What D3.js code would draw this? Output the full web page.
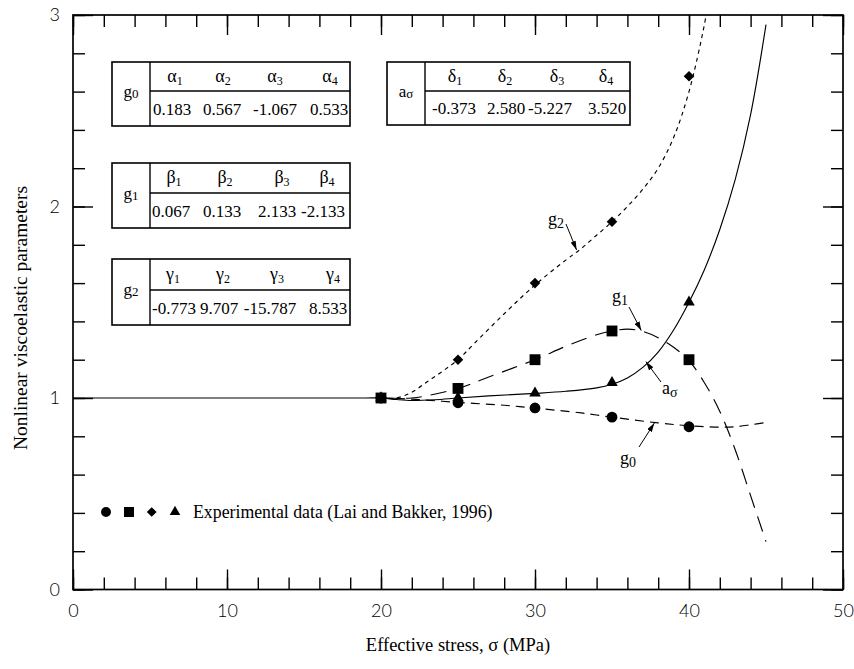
<!DOCTYPE html>
<html>
<head>
<meta charset="utf-8">
<script src="https://cdn.jsdelivr.net/npm/d3@7"></script>
<style>
  body { margin: 0; background: #fff; }
  svg { display: block; }
  .serif { font-family: "Liberation Serif", "DejaVu Serif", "Times New Roman", serif; }
  .sans { font-family: "Lato", "DejaVu Sans", sans-serif; font-weight: 300; }
</style>
</head>
<body>
<svg id="chart" width="854" height="669"></svg>
<script>
// ---- Experimental points (Lai and Bakker, 1996) ----
const stressExp = [20, 25, 30, 35, 40];
const g0Exp = [1.0, 0.975, 0.948, 0.90, 0.85];
const g1Exp = [1.0, 1.05, 1.20, 1.35, 1.20];
const g2Exp = [1.0, 1.20, 1.60, 1.92, 2.68];
const aExp  = [1.0, 1.00, 1.025, 1.08, 1.50];

// ---- Fitted curves, [stress (MPa), value] ----
const aCurve = [[0,1],[10,1],[19,1],[20,1],[21,0.992],[22,0.987],[23.5,0.991],[25,1.0],[27,1.011],[30,1.024],[32,1.035],[34,1.053],[35,1.072],[36,1.105],[37,1.16],[38,1.24],[39,1.355],[40,1.5],[41,1.67],[42,1.88],[43,2.14],[44,2.48],[45,2.95]];
const g0Curve = [[20,1],[22,0.994],[25,0.977],[28,0.962],[30,0.947],[33,0.922],[35,0.9],[38,0.87],[40,0.855],[42,0.848],[43,0.85],[44,0.86],[45,0.872]];
const g1Curve = [[20,1],[22,1.0],[23,1.012],[25,1.05],[27,1.11],[30,1.2],[32,1.27],[34,1.33],[35,1.35],[36,1.36],[37,1.348],[38,1.315],[39,1.265],[40,1.195],[41,1.08],[42,0.93],[43,0.73],[44,0.49],[45,0.25]];
const g2Curve = [[20,1],[21,1.0],[22,1.03],[23,1.085],[24,1.14],[25,1.2],[26,1.28],[28,1.44],[30,1.59],[32,1.72],[33,1.78],[34,1.85],[35,1.92],[36,2.0],[37,2.09],[38,2.2],[39,2.36],[40,2.6],[41,2.95],[41.2,3.05]];

// ---- Polynomial coefficients shown in the tables ----
const alphaCoef = ["0.183", "0.567", "-1.067", "0.533"];
const betaCoef  = ["0.067", "0.133", "2.133", "-2.133"];
const gammaCoef = ["-0.773", "9.707", "-15.787", "8.533"];
const deltaCoef = ["-0.373", "2.580", "-5.227", "3.520"];

// ---- Axis ticks ----
const xMajor = [0, 10, 20, 30, 40, 50];
const xMinor = d3.range(0, 51, 2);
const yMajor = [0, 1, 2, 3];
const yMinor = d3.range(0, 3.01, 0.2).map(v => +v.toFixed(1));

const svg = d3.select("#chart");
const L = 73, R = 843, T = 15, B = 589.5;
const x = d3.scaleLinear().domain([0, 50]).range([L, R]);
const y = d3.scaleLinear().domain([0, 3]).range([B, T]);

svg.append("defs").append("clipPath").attr("id", "plotClip")
  .append("rect").attr("x", L).attr("y", T).attr("width", R - L).attr("height", B - T);

svg.select("defs").append("marker")
  .attr("id", "arrow").attr("viewBox", "0 0 10 6")
  .attr("refX", 10).attr("refY", 3)
  .attr("markerWidth", 9).attr("markerHeight", 5.5)
  .attr("markerUnits", "userSpaceOnUse")
  .attr("orient", "auto")
  .append("path").attr("d", "M0,0 L10,3 L0,6 Z").attr("fill", "#000");

// ---- Axes with inward ticks on all four sides ----
const majorLen = 20, minorLen = 12;
function styleAxis(g) {
  g.select(".domain").remove();
  g.selectAll(".tick line").attr("stroke", "#000").attr("stroke-width", 1.4);
  g.attr("font-family", null).attr("font-size", null);
}
function styleLabels(g) {
  g.selectAll("text").attr("class", "sans").attr("font-size", 18).attr("fill", "#000");
}
svg.append("g").attr("transform", `translate(0,${B})`)
  .call(d3.axisBottom(x).tickValues(xMinor).tickSize(-minorLen).tickFormat(""))
  .call(styleAxis);
svg.append("g").attr("transform", `translate(0,${B})`)
  .call(d3.axisBottom(x).tickValues(xMajor).tickSize(-majorLen).tickPadding(15).tickFormat(d3.format("d")))
  .call(styleAxis).call(styleLabels);
svg.append("g").attr("transform", `translate(0,${T})`)
  .call(d3.axisTop(x).tickValues(xMinor).tickSize(-minorLen).tickFormat(""))
  .call(styleAxis);
svg.append("g").attr("transform", `translate(0,${T})`)
  .call(d3.axisTop(x).tickValues(xMajor).tickSize(-majorLen).tickFormat(""))
  .call(styleAxis);
svg.append("g").attr("transform", `translate(${L},0)`)
  .call(d3.axisLeft(y).tickValues(yMinor).tickSize(-minorLen).tickFormat(""))
  .call(styleAxis);
svg.append("g").attr("transform", `translate(${L},0)`)
  .call(d3.axisLeft(y).tickValues(yMajor).tickSize(-majorLen).tickPadding(13).tickFormat(d3.format("d")))
  .call(styleAxis).call(styleLabels);
svg.append("g").attr("transform", `translate(${R},0)`)
  .call(d3.axisRight(y).tickValues(yMinor).tickSize(-minorLen).tickFormat(""))
  .call(styleAxis);
svg.append("g").attr("transform", `translate(${R},0)`)
  .call(d3.axisRight(y).tickValues(yMajor).tickSize(-majorLen).tickFormat(""))
  .call(styleAxis);

svg.append("rect").attr("x", L).attr("y", T).attr("width", R - L).attr("height", B - T)
  .attr("fill", "none").attr("stroke", "#000").attr("stroke-width", 1.7);

// ---- Axis titles ----
svg.append("text").attr("class", "serif").attr("x", 458).attr("y", 651).attr("text-anchor", "middle")
  .attr("font-size", 18.5).text("Effective stress, σ (MPa)");
svg.append("text").attr("class", "serif").attr("transform", "translate(27,318) rotate(-90)").attr("text-anchor", "middle")
  .attr("font-size", 19.5).text("Nonlinear viscoelastic parameters");

// ---- Curves ----
const line = d3.line().x(d => x(d[0])).y(d => y(d[1])).curve(d3.curveCatmullRom.alpha(0.5));
const curves = svg.append("g").attr("clip-path", "url(#plotClip)")
  .attr("fill", "none").attr("stroke", "#000").attr("stroke-width", 1.15);
curves.append("path").attr("d", line(g0Curve)).attr("stroke-dasharray", "9,6");
curves.append("path").attr("d", line(g1Curve)).attr("stroke-dasharray", "16,9");
curves.append("path").attr("d", line(g2Curve)).attr("stroke-dasharray", "4,4");
curves.append("path").attr("d", line(aCurve));

// ---- Markers ----
const sym = {
  circle: d3.symbol().type(d3.symbolCircle).size(92)(),
  square: d3.symbol().type(d3.symbolSquare).size(118)(),
  diamond: d3.symbol().type(d3.symbolSquare).size(56)(),
  triangle: d3.symbol().type(d3.symbolTriangle).size(58)()
};
function drawPoints(values, shape, rot) {
  svg.append("g").selectAll("path").data(values).join("path")
    .attr("d", sym[shape])
    .attr("transform", (v, i) => `translate(${x(stressExp[i])},${y(v)}) rotate(${rot})`)
    .attr("fill", "#000");
}
drawPoints(g0Exp, "circle", 0);
drawPoints(g2Exp, "diamond", 45);
drawPoints(aExp, "triangle", 0);
drawPoints(g1Exp, "square", 0);

// ---- Curve labels with arrows ----
const notes = [
  { name: "g", sub: "2", lx: 548, ly: 225, from: [566, 224], tip: [32.7, 1.773] },
  { name: "g", sub: "1", lx: 612, ly: 302, from: [629, 307], tip: [36.9, 1.352] },
  { name: "a", sub: "σ", lx: 662, ly: 394, from: [661, 382], tip: [37.2, 1.19] },
  { name: "g", sub: "0", lx: 620, ly: 464, from: [639, 447], tip: [37.75, 0.869] }
];
notes.forEach(n => {
  svg.append("line").attr("x1", n.from[0]).attr("y1", n.from[1])
    .attr("x2", x(n.tip[0])).attr("y2", y(n.tip[1]))
    .attr("stroke", "#000").attr("stroke-width", 1).attr("marker-end", "url(#arrow)");
  const t = svg.append("text").attr("class", "serif").attr("x", n.lx).attr("y", n.ly).attr("font-size", 18);
  t.append("tspan").text(n.name);
  t.append("tspan").attr("dy", 3).attr("font-size", 14).text(n.sub);
});

// ---- Legend ----
const legendY = 512;
[["circle", 106, 0], ["square", 129, 0], ["diamond", 151.7, 45], ["triangle", 175, 0]].forEach(([s, lx, r]) => {
  svg.append("path").attr("d", sym[s]).attr("transform", `translate(${lx},${legendY}) rotate(${r}) scale(0.92)`).attr("fill", "#000");
});
svg.append("text").attr("class", "serif").attr("x", 193).attr("y", legendY + 5.5).attr("font-size", 17.8)
  .text("Experimental data (Lai and Bakker, 1996)");

// ---- Coefficient tables ----
const tables = [
  { name: "g", sub: "0", greek: "α", coef: alphaCoef, x0: 112, x1: 150, x2: 350, y0: 62, y1: 91, y2: 126,
    hx: [175, 223, 275, 330], vx: [172, 222, 275, 329] },
  { name: "a", sub: "σ", greek: "δ", coef: deltaCoef, x0: 387, x1: 425, x2: 630, y0: 62, y1: 91, y2: 125,
    hx: [455, 505, 557, 606], vx: [454, 506, 550, 607] },
  { name: "g", sub: "1", greek: "β", coef: betaCoef, x0: 112, x1: 150, x2: 350, y0: 163, y1: 193, y2: 228,
    hx: [174, 225, 282, 327], vx: [171, 222, 277, 323] },
  { name: "g", sub: "2", greek: "γ", coef: gammaCoef, x0: 112, x1: 150, x2: 350, y0: 259, y1: 290, y2: 325,
    hx: [173, 223, 277, 333], vx: [174, 219, 270, 328] }
];
tables.forEach(tb => {
  const g = svg.append("g");
  g.append("rect").attr("x", tb.x0).attr("y", tb.y0).attr("width", tb.x2 - tb.x0).attr("height", tb.y2 - tb.y0)
    .attr("fill", "#fff").attr("stroke", "#000").attr("stroke-width", 1.6);
  g.append("line").attr("x1", tb.x1).attr("x2", tb.x1).attr("y1", tb.y0).attr("y2", tb.y2)
    .attr("stroke", "#000").attr("stroke-width", 1.4);
  g.append("line").attr("x1", tb.x1).attr("x2", tb.x2).attr("y1", tb.y1).attr("y2", tb.y1)
    .attr("stroke", "#000").attr("stroke-width", 1.4);
  const lab = g.append("text").attr("class", "serif").attr("x", (tb.x0 + tb.x1) / 2).attr("y", (tb.y0 + tb.y2) / 2 + 3)
    .attr("text-anchor", "middle").attr("font-size", 17);
  lab.append("tspan").text(tb.name);
  lab.append("tspan").attr("dy", 1).attr("font-size", 13).text(tb.sub);
  tb.coef.forEach((c, i) => {
    const h = g.append("text").attr("class", "serif").attr("x", tb.hx[i]).attr("y", (tb.y0 + tb.y1) / 2 + 5)
      .attr("text-anchor", "middle").attr("font-size", 18);
    h.append("tspan").text(tb.greek);
    h.append("tspan").attr("dy", 3).attr("font-size", 12).text(i + 1);
    g.append("text").attr("class", "serif").attr("x", tb.vx[i]).attr("y", (tb.y1 + tb.y2) / 2 + 6)
      .attr("text-anchor", "middle").attr("font-size", 17).text(c);
  });
});
</script>
</body>
</html>
